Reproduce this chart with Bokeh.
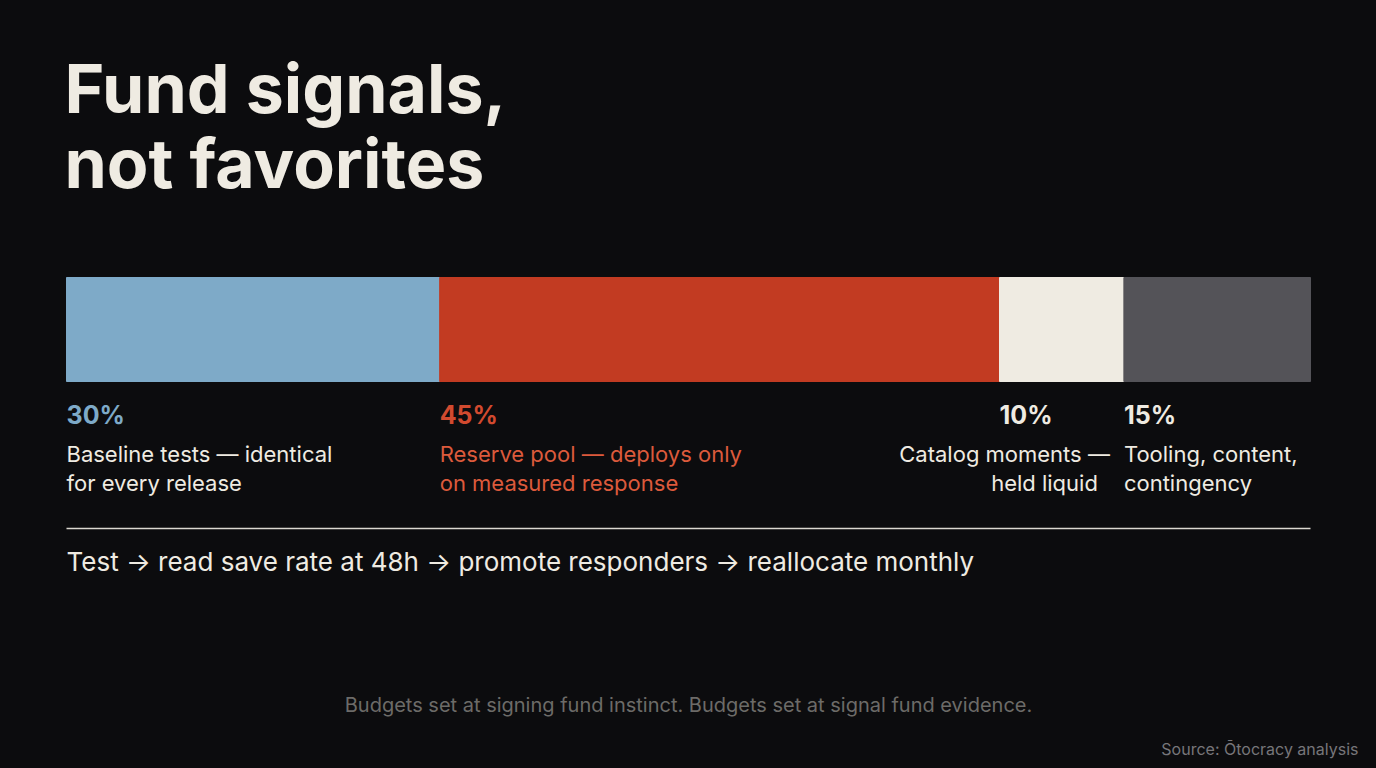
from bokeh.plotting import figure
from bokeh.models import ColumnDataSource, Range1d, Label
from bokeh.embed import file_html
from bokeh.resources import INLINE
import numpy as np

# Datos del gráfico
shares = [30, 45, 10, 15]
pct_labels = ["30%", "45%", "10%", "15%"]
desc_line1 = ["Baseline tests \u2014 identical", "Reserve pool \u2014 deploys only",
              "Catalog moments \u2014", "Tooling, content,"]
desc_line2 = ["for every release", "on measured response", "held liquid", "contingency"]
bar_colors = ["#7eaac8", "#c23b22", "#efebe2", "#545358"]
pct_colors = ["#7eaac8", "#d24a2f", "#efebe2", "#efebe2"]
desc_colors = ["#efebe2", "#dc5a3c", "#efebe2", "#efebe2"]

title_lines = ["Fund signals,", "not favorites"]
flow_text = "Test \u2192 read save rate at 48h \u2192 promote responders \u2192 reallocate monthly"
footer_text = "Budgets set at signing fund instinct. Budgets set at signal fund evidence."
source_text = "Source: \u014ctocracy analysis"

BG = "#0c0c0e"
CREAM = "#efebe2"
FONT = "Inter"
W, H = 1376, 768

# escala: 100% ocupa 1244 px, empezando a 66 px del borde
px_per_unit = 1244 / 100
left_px = 66

ends = np.cumsum(shares)
starts = ends - np.array(shares)
source = ColumnDataSource(dict(left=starts, right=ends, color=bar_colors))

p = figure(width=W, height=H, output_backend="svg", toolbar_location=None,
           x_range=Range1d(-left_px / px_per_unit, (W - left_px) / px_per_unit),
           y_range=Range1d(0, H), x_axis_type=None, y_axis_type=None,
           min_border=0, background_fill_color=BG, border_fill_color=BG,
           outline_line_color=None)
p.grid.visible = False

# barra apilada
p.hbar(y=439, height=104, left="left", right="right", color="color", source=source)

# título
for i, t in enumerate(title_lines):
    p.add_layout(Label(x=0, y=681 - i * 75, text=t, text_font=FONT, text_font_size="68px",
                       text_font_style="bold", text_color=CREAM, text_baseline="alphabetic",
                       x_offset=-2))

# etiquetas de cada segmento
for i in range(len(shares)):
    x0 = starts[i]
    p.add_layout(Label(x=x0, y=354, text=pct_labels[i], text_font=FONT, text_font_size="25px",
                       text_font_style="bold", text_color=pct_colors[i], text_baseline="alphabetic"))
    if i == 2:
        # este texto va alineado a la derecha del segmento
        for j, t in enumerate([desc_line1[i], desc_line2[i]]):
            p.add_layout(Label(x=ends[i], y=315 - j * 29, text=t, text_font=FONT,
                               text_font_size="22px", text_color=desc_colors[i],
                               text_align="right", text_baseline="alphabetic",
                               x_offset=-14 - j * 12))
    else:
        for j, t in enumerate([desc_line1[i], desc_line2[i]]):
            p.add_layout(Label(x=x0, y=315 - j * 29, text=t, text_font=FONT,
                               text_font_size="22px", text_color=desc_colors[i],
                               text_baseline="alphabetic"))

# regla y flujo
p.line([0, 100], [240, 240], line_color="#dcd8d0", line_width=1.5)
p.add_layout(Label(x=0, y=207, text=flow_text, text_font=FONT, text_font_size="26px",
                   text_color=CREAM, text_baseline="alphabetic"))

# pie
p.add_layout(Label(x=688, y=64, x_units="screen", text=footer_text, text_font=FONT,
                   text_font_size="20px", text_color="#6c6b68", text_align="center",
                   text_baseline="alphabetic"))
p.add_layout(Label(x=1358, y=20, x_units="screen", text=source_text, text_font=FONT,
                   text_font_size="16px", text_color="#77767a", text_align="right",
                   text_baseline="alphabetic"))

html = file_html(p, INLINE)
html = html.replace("</head>", "<style>html,body{margin:0;padding:0;background:%s}</style></head>" % BG, 1)
open("out.html", "w").write(html)
